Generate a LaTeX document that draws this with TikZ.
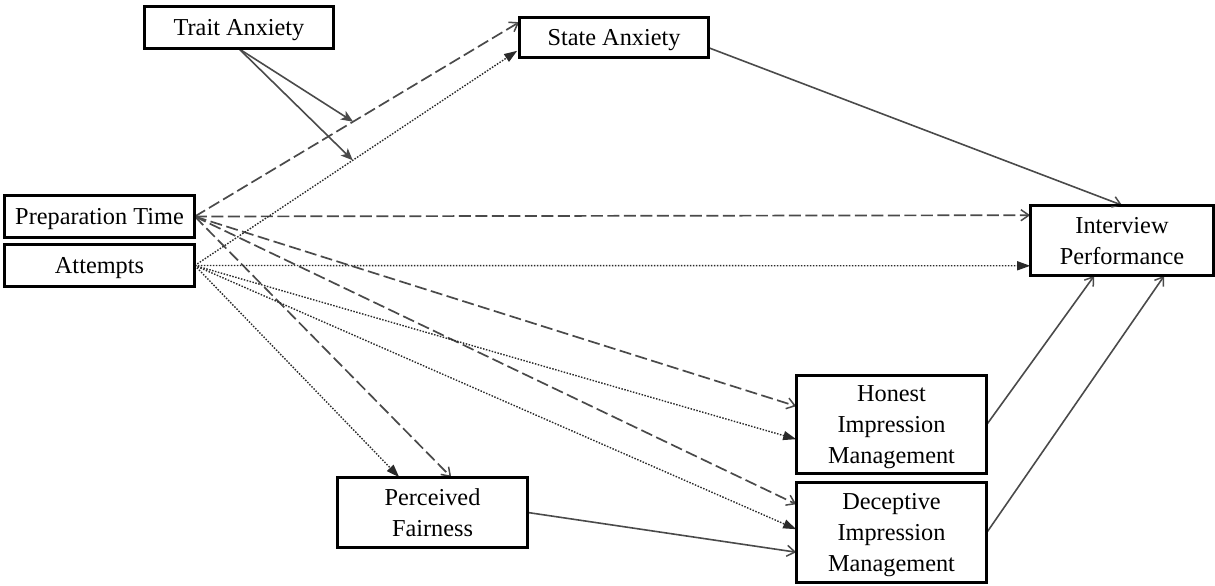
\documentclass[tikz,border=0pt]{standalone}
\usepackage{fontspec}
\setmainfont{Liberation Serif}
\usetikzlibrary{arrows.meta,calc}
\definecolor{linegray}{HTML}{4A4A4A}
\definecolor{dotgray}{HTML}{2A2A2A}
\tikzset{
  box/.style={draw=black, line width=1.6pt, fill=white, align=center,
    inner sep=0pt, text depth=0pt, font=\fontsize{24.3}{31}\selectfont},
  prepline/.style={draw=linegray, line width=1.7pt, dash pattern=on 12pt off 4.5pt,
    -{Straight Barb[length=8pt,width=11pt,line width=1.5pt]}},
  attline/.style={draw=dotgray, line width=1.4pt, dash pattern=on 1.5pt off 1.5pt,
    -{Triangle[length=13pt,width=9pt]}},
  pathline/.style={draw=linegray, line width=1.6pt,
    -{Straight Barb[length=8pt,width=11pt,line width=1.5pt]}},
  modline/.style={draw=linegray, line width=1.6pt,
    -{Stealth[length=12pt,width=10pt,inset=3pt]}}
}
\begin{document}
\begin{tikzpicture}[x=1pt,y=-1pt]
\useasboundingbox (0,0) rectangle (1215,586);

% variables
\node[box, minimum width=188pt, minimum height=41pt] (trait)  at (239,27.5)   {Trait Anxiety};
\node[box, minimum width=188pt, minimum height=39pt] (state)  at (614,37.5)   {State Anxiety};
\node[box, minimum width=189pt, minimum height=41pt] (prep)   at (99.5,216.5) {Preparation Time};
\node[box, minimum width=189pt, minimum height=41pt] (att)    at (99.5,265.5) {Attempts};
\node[box, minimum width=182pt, minimum height=69pt] (perf)   at (1122,240.5) {Interview\\Performance};
\node[box, minimum width=189pt, minimum height=97pt] (honest) at (891.5,424.5) {Honest\\Impression\\Management};
\node[box, minimum width=189pt, minimum height=99pt] (decep)  at (891.5,532.5) {Deceptive\\Impression\\Management};
\node[box, minimum width=189pt, minimum height=69pt] (fair)   at (432.5,512.5) {Perceived\\Fairness};

% target points on the boxes
\coordinate (sa1) at ($(state.north west)+(0,5)$);
\coordinate (sa2) at ($(state.south west)+(-2,-7)$);
\coordinate (ip1) at ($(perf.north west)+(0,10)$);
\coordinate (ip2) at ($(perf.south west)+(0,-10)$);
\coordinate (ip3) at ($(perf.south west)+(64,0)$);
\coordinate (ip4) at ($(perf.south west)+(134,0)$);
\coordinate (ho1) at ($(honest.north west)+(0,31)$);
\coordinate (ho2) at ($(honest.north west)+(0,64)$);
\coordinate (de1) at ($(decep.north west)+(0,22)$);
\coordinate (de2) at ($(decep.north west)+(0,47)$);
\coordinate (de3) at ($(decep.north west)+(0,70)$);
\coordinate (pf1) at ($(fair.north west)+(114,0)$);
\coordinate (pf2) at ($(fair.north west)+(62,0)$);
\coordinate (sa3) at ($(state.south east)+(0,-10)$);
\coordinate (fa3) at ($(fair.east)$);

% moderation points on the paths to State Anxiety
\path (prep.east) -- (sa1) coordinate[pos=0.488] (m1);
\path (att.east) -- (sa2) coordinate[pos=0.49] (m2);

% Preparation Time paths
\draw[prepline] (prep.east) -- (sa1);
\draw[prepline] (prep.east) -- (ip1);
\draw[prepline] (prep.east) -- (ho1);
\draw[prepline] (prep.east) -- (de1);
\draw[prepline] (prep.east) -- (pf1);

% Attempts paths
\draw[attline] (att.east) -- (sa2);
\draw[attline] (att.east) -- (ip2);
\draw[attline] (att.east) -- (ho2);
\draw[attline] (att.east) -- (de2);
\draw[attline] (att.east) -- (pf2);

% Trait Anxiety moderation
\draw[modline] (trait.south) -- (m1);
\draw[modline] (trait.south) -- (m2);

% mediator paths
\draw[pathline] (sa3) -- (perf.north);
\draw[pathline] (honest.east) -- (ip3);
\draw[pathline] (decep.east) -- (ip4);
\draw[pathline] (fa3) -- (de3);

% keep the boxes' outlines on top
\foreach \n in {trait,state,prep,att,perf,honest,decep,fair}
  \draw[black, line width=1.6pt] (\n.north west) rectangle (\n.south east);
\end{tikzpicture}
\end{document}
